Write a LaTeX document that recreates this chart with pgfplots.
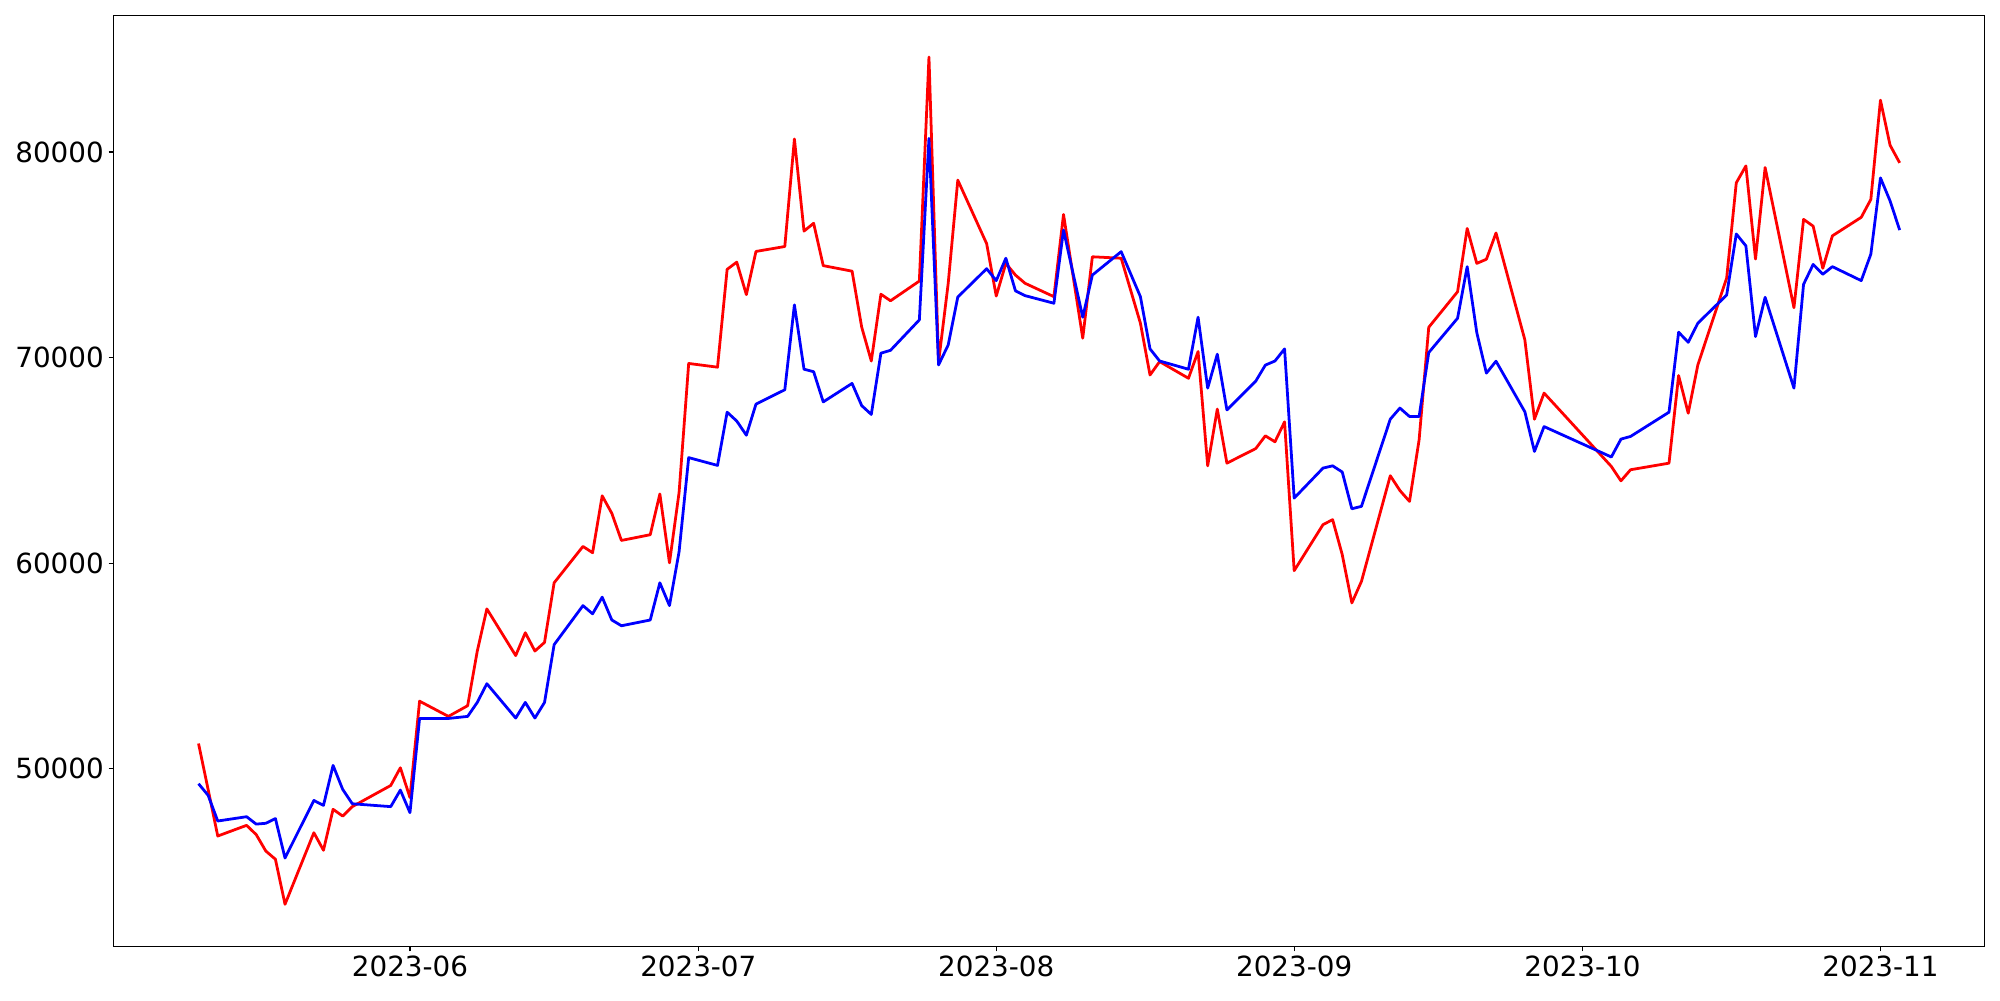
\documentclass[border=0pt]{standalone}
\usepackage{fontspec}
\setmainfont{DejaVu Sans}
\usepackage{pgfplots}
\usepackage{pgfplotstable}
\pgfplotsset{compat=1.18}
\usetikzlibrary{calc}

\pgfplotstableread{
d v
-22 51220
-21 48980
-20 46720
-17 47240
-16 46790
-15 45990
-14 45590
-13 43400
-10 46880
-9 46030
-8 48020
-7 47690
-6 48150
-2 49180
-1 50040
0 48590
1 53280
4 52540
6 53060
7 55710
8 57770
11 55500
12 56610
13 55720
14 56140
15 59040
18 60810
19 60500
20 63270
21 62420
22 61100
25 61380
26 63360
27 60010
28 63430
29 69710
32 69530
33 74290
34 74640
35 73060
36 75160
39 75400
40 80630
41 76150
42 76530
43 74470
46 74200
47 71480
48 69830
49 73080
50 72760
53 73720
54 84620
55 69780
56 73600
57 78630
60 75540
61 72990
62 74580
63 74010
64 73610
67 72960
68 76960
69 73950
70 70940
71 74900
74 74830
76 71670
77 69150
78 69800
81 68990
82 70290
83 64730
84 67490
85 64860
88 65570
89 66190
90 65900
91 66870
92 59630
95 61870
96 62110
97 60410
98 58060
99 59110
102 64250
103 63530
104 63000
105 66000
106 71470
109 73200
110 76280
111 74580
112 74780
113 76060
116 70860
117 67000
118 68270
125 64700
126 64000
127 64540
131 64860
132 69120
133 67290
134 69640
137 73870
138 78500
139 79320
140 74790
141 79240
144 72420
145 76720
146 76390
147 74340
148 75920
151 76820
152 77690
153 82520
154 80330
155 79470
}\redtable

\pgfplotstableread{
d v
-22 49265
-21 48700
-20 47450
-17 47660
-16 47300
-15 47340
-14 47570
-13 45650
-10 48450
-9 48210
-8 50155
-7 48990
-6 48290
-2 48150
-1 48955
0 47855
1 52440
4 52440
6 52540
7 53220
8 54130
11 52460
12 53220
13 52460
14 53220
15 56030
18 57930
19 57530
20 58340
21 57230
22 56950
25 57230
26 59040
27 57930
28 60550
29 65130
32 64750
33 67340
34 66910
35 66220
36 67730
39 68430
40 72560
41 69430
42 69310
43 67840
46 68740
47 67660
48 67230
49 70210
50 70350
53 71830
54 80660
55 69640
56 70610
57 72940
60 74320
61 73740
62 74830
63 73240
64 73010
67 72640
68 76200
69 74080
70 71960
71 74010
74 75150
76 72960
77 70420
78 69830
81 69430
82 71960
83 68510
84 70160
85 67450
88 68850
89 69630
90 69830
91 70420
92 63160
95 64620
96 64730
97 64430
98 62640
99 62760
102 67000
103 67540
104 67130
105 67130
106 70240
109 71910
110 74420
111 71210
112 69240
113 69820
116 67360
117 65430
118 66640
125 65160
126 66030
127 66160
131 67340
132 71230
133 70740
134 71670
137 73040
138 76010
139 75430
140 71020
141 72930
144 68510
145 73560
146 74530
147 74050
148 74420
151 73740
152 75030
153 78740
154 77620
155 76200
}\bluetable

\begin{document}
\begin{tikzpicture}
\begin{axis}[
  width=1347.3bp, height=670.4bp, scale only axis,
  xmin=-30.85, xmax=163.85, ymin=41350, ymax=86650,
  xtick={0,30,61,92,122,153},
  xticklabels={2023-06,2023-07,2023-08,2023-09,2023-10,2023-11},
  ytick={50000,60000,70000,80000},
  /pgf/number format/1000 sep={},
  /pgf/number format/fixed,
  /pgf/number format/assume math mode=true,
  tick label style={font=\fontsize{20bp}{24bp}\selectfont},
  tick align=outside,
  xtick pos=left, ytick pos=left,
  major tick length=3.5bp,
  minor tick num=0,
  axis line style={line width=0.8bp},
  every tick/.style={black, line width=0.8bp},
  scaled y ticks=false,
  clip=true,
]
\addplot[red, line width=2bp, line join=round, mark=none] table[x=d, y=v] {\redtable};
\addplot[blue, line width=2bp, line join=round, mark=none] table[x=d, y=v] {\bluetable};
\end{axis}
\pgfresetboundingbox
\path ($(current axis.south west)+(-81.7bp,-38.6bp)$) rectangle ($(current axis.north east)+(11bp,11bp)$);
\end{tikzpicture}
\end{document}
